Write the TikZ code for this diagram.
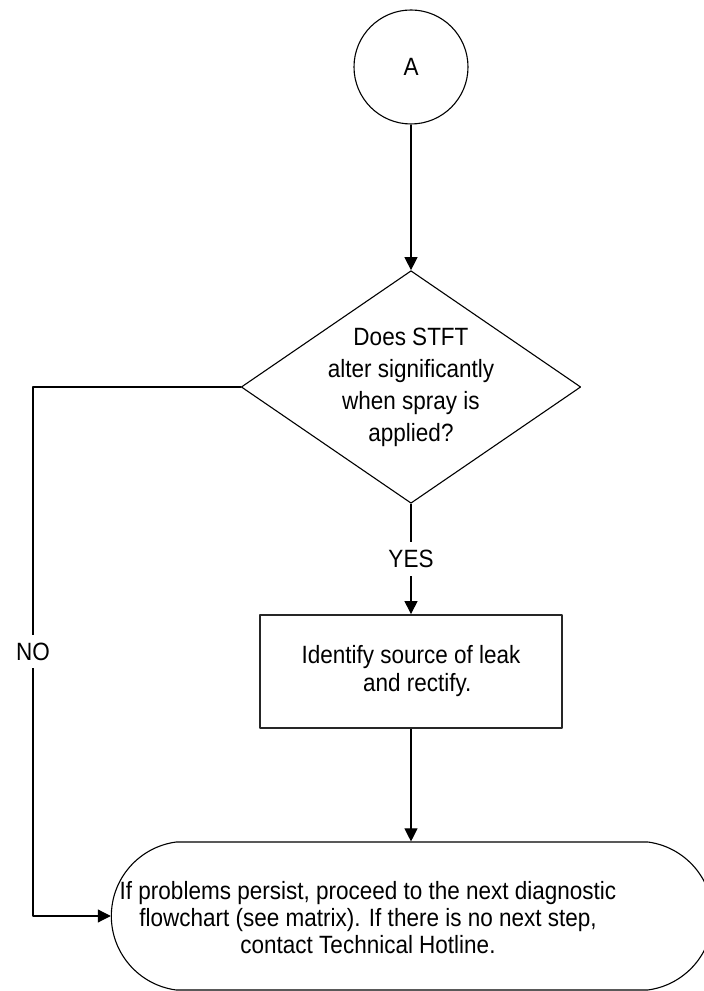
\documentclass[tikz,border=0pt]{standalone}
\usepackage{fontspec}
\setmainfont{Liberation Sans}[FakeStretch=0.9]
\usetikzlibrary{shapes.geometric,shapes.misc,arrows.meta}

\begin{document}
\begin{tikzpicture}[>={Triangle[length=13bp,width=13bp]},line join=bevel,
  every node/.style={font=\fontsize{25bp}{27bp}\selectfont},
  connector/.style={draw,line width=1.1bp},
  onpage/.style={circle,draw,line width=1.1bp,minimum size=114bp,inner sep=0pt},
  decision/.style={diamond,draw,line width=1.1bp,aspect=1.46,inner sep=0pt,
    minimum width=332bp,minimum height=228bp,align=center,
    font=\fontsize{25bp}{32bp}\selectfont},
  process/.style={rectangle,draw=black!85,line width=1.8bp,minimum width=302bp,
    minimum height=113bp,align=center,font=\fontsize{25bp}{28bp}\selectfont},
  terminal/.style={rounded rectangle,rounded rectangle arc length=165,draw,
    line width=1.1bp,minimum width=608bp,minimum height=148bp},
  branch/.style={fill=white,inner sep=8bp}]
  \useasboundingbox (0bp,0bp) rectangle (704bp,991bp);
  \clip (0bp,0bp) rectangle (704bp,991bp);
%%
  % Node: A
  \node[onpage] (A) at (411bp,924bp) {A};
  % Node: spray
  \node[decision] (spray) at (411bp,604bp) {Does STFT\\alter significantly\\when spray is\\applied?};
  % Node: leak
  \node[process] (leak) at (411bp,319.5bp) {Identify source of leak\\\ \ and rectify.};
  % Node: hotline
  \node[terminal] (hotline) at (412bp,75bp) {};
  \node[align=center] (hotlinetext) at (368bp,73bp) {If problems persist, proceed to the next diagnostic\\flowchart (see matrix). If there is no next step,\\contact Technical Hotline.};
  \coordinate (noturn) at (33bp,604bp);
  % Edge: A -> spray
  \draw [connector,->] (A) -- (spray);
  % Edge: spray -> leak
  \draw [connector,->] (spray) -- node[branch] {YES} (leak);
  % Edge: leak -> hotline
  \draw [connector,->] (leak) -- (leak |- hotline.north);
  % Edge: spray -> hotline
  \draw [connector,->] (spray.west) -- (noturn) |- node[branch,pos=0.25] {NO} (hotline.west);
%
\end{tikzpicture}
\end{document}
